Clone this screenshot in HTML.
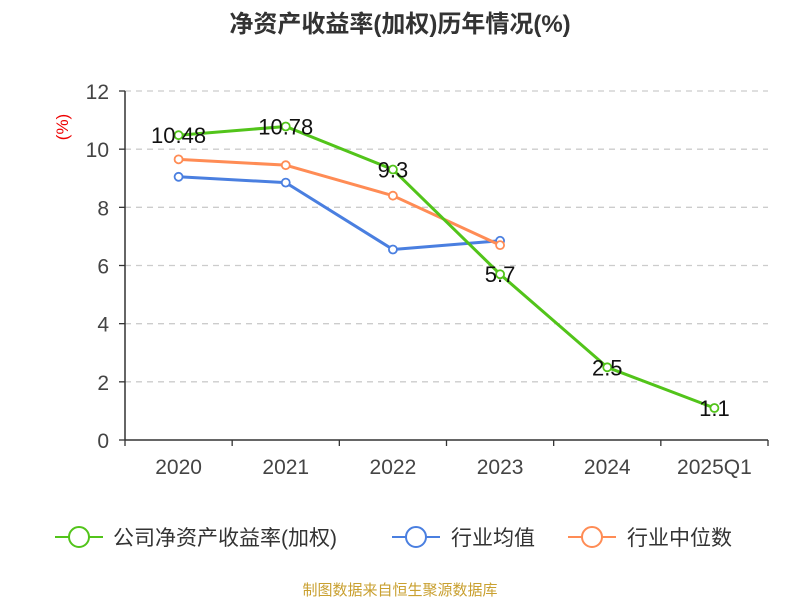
<!DOCTYPE html>
<html><head><meta charset="utf-8"><style>
body{margin:0;background:#fff;font-family:"Liberation Sans","Noto Sans CJK SC",sans-serif}
</style></head><body>
<svg id="chart" width="800" height="600" xmlns="http://www.w3.org/2000/svg" font-family="'Liberation Sans','Noto Sans CJK SC',sans-serif">
<rect width="800" height="600" fill="#fff"/>
<text x="400" y="32" text-anchor="middle" font-size="24" font-weight="bold" fill="#333">净资产收益率(加权)历年情况(%)</text>
<text transform="translate(68,127) rotate(-90)" text-anchor="middle" font-size="17" fill="#e00">(%)</text>
<g id="grid"></g><g id="axes"></g><g id="series"></g>
<g>
 <g><line x1="55" y1="537" x2="103" y2="537" stroke="#52c41a" stroke-width="2"/><circle cx="79" cy="537" r="10" fill="#fff" stroke="#52c41a" stroke-width="2"/><text x="113" y="545" font-size="21" fill="#333">公司净资产收益率(加权)</text></g>
 <g><line x1="392" y1="537" x2="440" y2="537" stroke="#4a7fe0" stroke-width="2"/><circle cx="416" cy="537" r="10" fill="#fff" stroke="#4a7fe0" stroke-width="2"/><text x="451" y="545" font-size="21" fill="#333">行业均值</text></g>
 <g><line x1="568" y1="537" x2="616" y2="537" stroke="#ff8c55" stroke-width="2"/><circle cx="592" cy="537" r="10" fill="#fff" stroke="#ff8c55" stroke-width="2"/><text x="627" y="545" font-size="21" fill="#333">行业中位数</text></g>
</g>
<text x="400" y="595" text-anchor="middle" font-size="15" fill="#c9a030">制图数据来自恒生聚源数据库</text>
</svg>
<script>
const categories=["2020","2021","2022","2023","2024","2025Q1"];
const company=[10.48,10.78,9.3,5.7,2.5,1.1];
const companyLabels=["10.48","10.78","9.3","5.7","2.5","1.1"];
const industryAvg=[9.05,8.85,6.55,6.85];
const industryMedian=[9.65,9.45,8.4,6.7];
const yTicks=[0,2,4,6,8,10,12];
const NS="http://www.w3.org/2000/svg";
const x0=125,x1=768,yb=440,yt=91,ymax=12;
const bw=(x1-x0)/categories.length;
const X=i=>x0+bw*(i+0.5);
const Y=v=>yb-(v/ymax)*(yb-yt);
function mk(tag,attrs,parent){const e=document.createElementNS(NS,tag);for(const k in attrs)e.setAttribute(k,attrs[k]);parent.appendChild(e);return e;}
const grid=document.getElementById('grid'),axes=document.getElementById('axes'),ser=document.getElementById('series');
yTicks.forEach(t=>{
 if(t>0){const g=mk('line',{x1:x0,x2:x1,y1:Y(t),y2:Y(t),stroke:'#ccc','stroke-dasharray':'6,5','stroke-width':1.3},grid);
 
 }
 const tk=mk('line',{x1:x0-6,x2:x0,y1:Y(t),y2:Y(t),stroke:'#333','stroke-width':1.3},axes);
 
 
 const tx=mk('text',{x:x0-16,y:Y(t)+8,'text-anchor':'end','font-size':21,fill:'#444'},axes);tx.textContent=t;
 
 
});
const ya=mk('line',{x1:x0,x2:x0,y1:yt,y2:yb,stroke:'#333','stroke-width':1.5},axes);


const xa=mk('line',{x1:x0,x2:x1,y1:yb,y2:yb,stroke:'#333','stroke-width':1.5},axes);


for(let i=0;i<=categories.length;i++){const t=mk('line',{x1:x0+bw*i,x2:x0+bw*i,y1:yb,y2:yb+6,stroke:'#333','stroke-width':1.3},axes);
 
 }
categories.forEach((c,i)=>{const t=mk('text',{x:X(i),y:474,'text-anchor':'middle','font-size':21,fill:'#444'},axes);t.textContent=c;
 
 });
function drawSeries(vals,color,name){
 const pts=vals.map((v,i)=>X(i)+','+Y(v)).join(' ');
 const pl=mk('polyline',{points:pts,fill:'none',stroke:color,'stroke-width':3,'stroke-linejoin':'round'},ser);
 
 
 vals.forEach((v,i)=>{const c=mk('circle',{cx:X(i),cy:Y(v),r:4,fill:'#fff',stroke:color,'stroke-width':1.8},ser);
  
  });
}
drawSeries(industryAvg,'#4a7fe0','industry-avg');
drawSeries(industryMedian,'#ff8c55','industry-median');
drawSeries(company,'#52c41a','company');
company.forEach((v,i)=>{const t=mk('text',{x:X(i),y:Y(v)+8,'text-anchor':'middle','font-size':22,fill:'#111'},ser);t.textContent=companyLabels[i];
 
 });
</script>
</body></html>
